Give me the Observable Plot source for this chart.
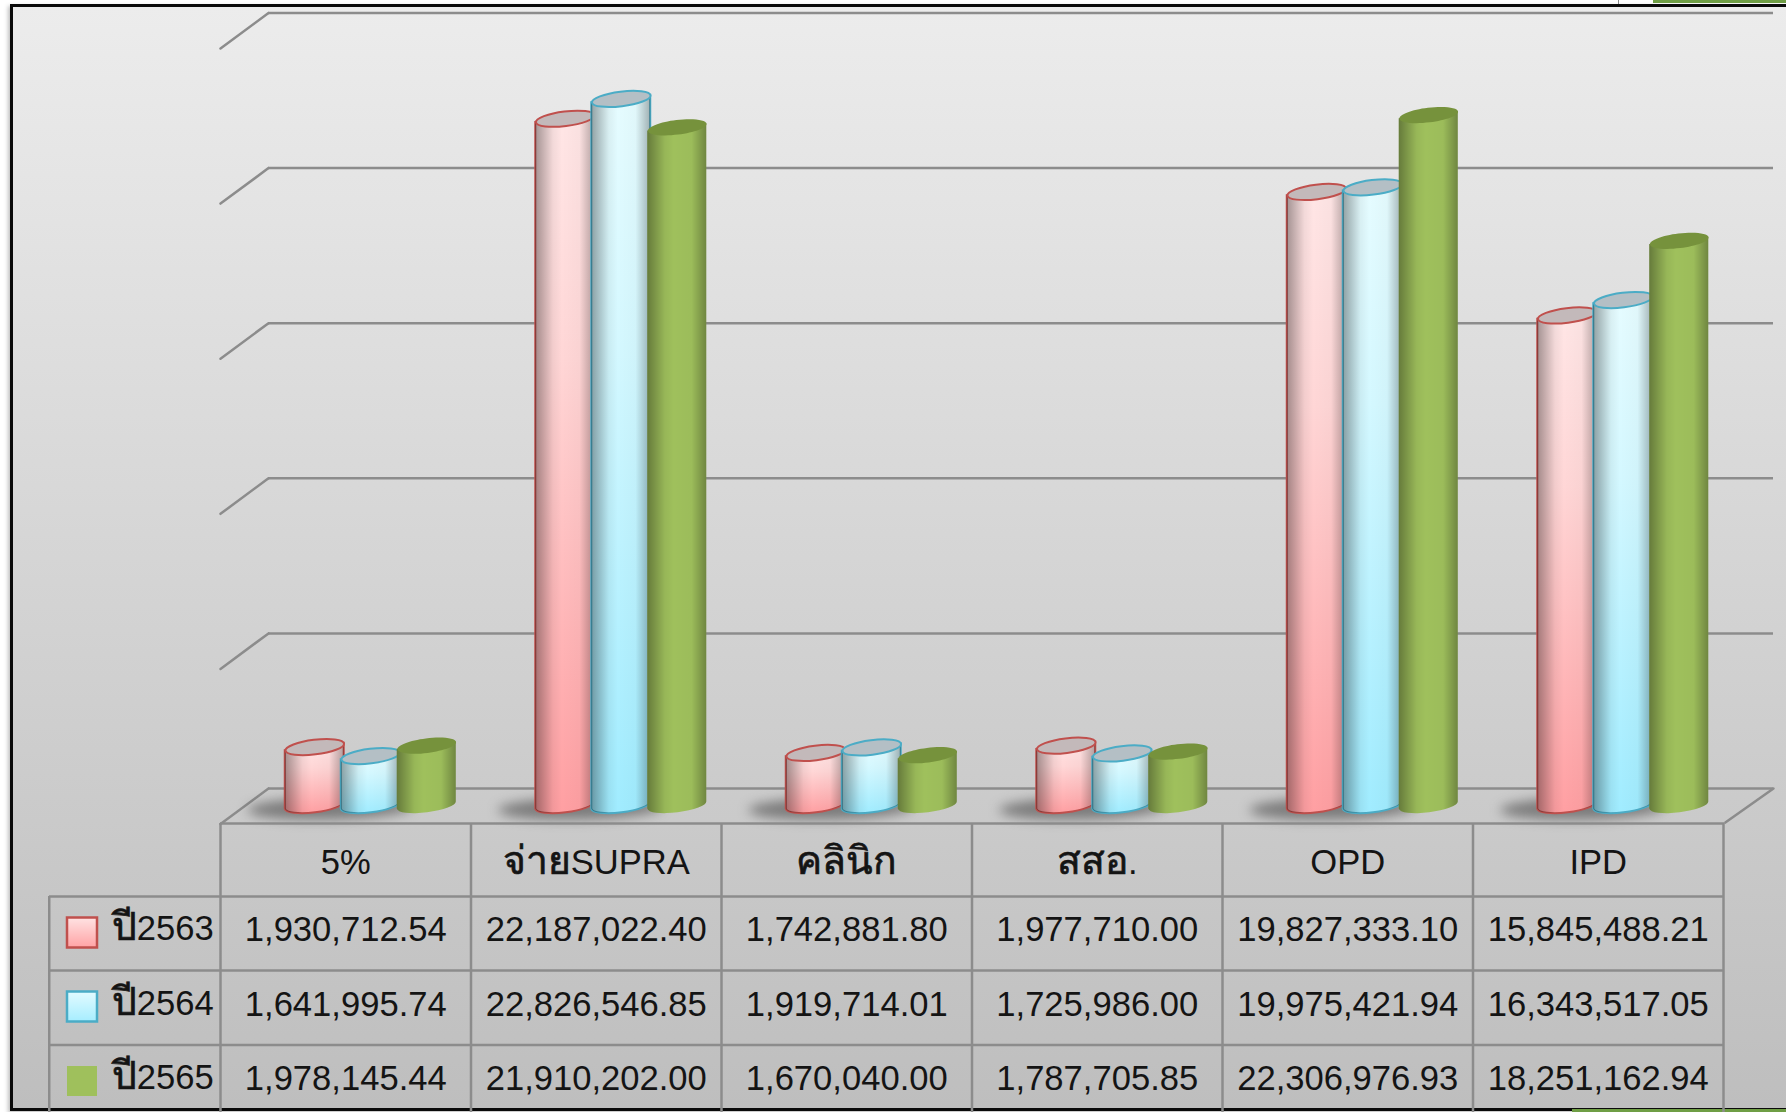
<!DOCTYPE html>
<html lang="th">
<head>
<meta charset="utf-8">
<title>Chart</title>
<script src="https://cdn.jsdelivr.net/npm/d3@7"></script>
<script src="https://cdn.jsdelivr.net/npm/@observablehq/plot@0.6"></script>
<style>
  html, body { margin: 0; padding: 0; background: #fff; width: 1786px; height: 1112px; overflow: hidden; position: relative; }
  #frame { position: absolute; left: 10px; top: 4px; width: 1790px; height: 1101px; border: 3px solid #0a0a0a;
           background: linear-gradient(#ececec, #bebebe); box-shadow: -2px 2px 4px rgba(0,0,0,.25); }
  .patch { position: absolute; background: #6f9e45; }
  #chart { position: absolute; left: 0; top: 0; }
  #chart svg { display: block; }
</style>
</head>
<body>
<svg width="0" height="0" style="position:absolute">
  <defs>
    <linearGradient id="pinkBody" x1="0" y1="0" x2="0" y2="1"><stop offset="0" stop-color="#ffe6e6"/><stop offset=".35" stop-color="#ffd6d6"/><stop offset="1" stop-color="#ff9fa2"/></linearGradient>
    <linearGradient id="blueBody" x1="0" y1="0" x2="0" y2="1"><stop offset="0" stop-color="#e6fcff"/><stop offset=".35" stop-color="#d4f8ff"/><stop offset="1" stop-color="#a0ecff"/></linearGradient>
    <linearGradient id="greenBody" x1="0" y1="0" x2="0" y2="1"><stop offset="0" stop-color="#9fc05c"/><stop offset="1" stop-color="#9fc05c"/></linearGradient>
    <linearGradient id="shade" x1="0" y1="0" x2="1" y2="0"><stop offset="0" stop-color="#000" stop-opacity=".36"/><stop offset=".3" stop-color="#000" stop-opacity=".05"/><stop offset=".45" stop-color="#000" stop-opacity="0"/><stop offset=".75" stop-color="#000" stop-opacity=".02"/><stop offset="1" stop-color="#000" stop-opacity=".3"/></linearGradient>
    <linearGradient id="pinkKey" x1="0" y1="0" x2="0" y2="1"><stop offset="0" stop-color="#ffe3e3"/><stop offset="1" stop-color="#ffa3a5"/></linearGradient>
    <linearGradient id="blueKey" x1="0" y1="0" x2="0" y2="1"><stop offset="0" stop-color="#e3fbff"/><stop offset="1" stop-color="#a6edff"/></linearGradient>
  </defs>
</svg>
<div id="frame"></div>
<div class="patch" style="left:1653px;top:0;width:133px;height:3px"></div>
<div class="patch" style="left:1618px;top:0;width:1px;height:4px;background:#888"></div>
<div class="patch" style="left:1572px;top:1109px;width:214px;height:3px"></div>
<div id="chart"></div>
<script>
const categories = ["5%", "จ่ายSUPRA", "คลินิก", "สสอ.", "OPD", "IPD"];
const seriesNames = ["ปี2563", "ปี2564", "ปี2565"];
const values2563 = [1930712.54, 22187022.40, 1742881.80, 1977710.00, 19827333.10, 15845488.21];
const values2564 = [1641995.74, 22826546.85, 1919714.01, 1725986.00, 19975421.94, 16343517.05];
const values2565 = [1978145.44, 21910202.00, 1670040.00, 1787705.85, 22306976.93, 18251162.94];
const gridTicks = [0, 5000000, 10000000, 15000000, 20000000, 25000000];

const allValues = [values2563, values2564, values2565];
const fmt = d3.format(",.2f");
const TEXT = "#141414", GRID = "#8c8c8c", FONT = "'Liberation Sans', Arial, sans-serif";

// cylinder look
const R = 29.5, B = 7.3, TILT = -7 * Math.PI / 180, BAND = 250.5;
const looks = [
  {body: "url(#pinkBody)", cap: "#c3b9ba", line: "#c0504d", key: "url(#pinkKey)", keyLine: "#c0504d", dx: 25 - 56},
  {body: "url(#blueBody)", cap: "#b4bfc5", line: "#4bacc6", key: "url(#blueKey)", keyLine: "#4bacc6", dx: 25},
  {body: "url(#greenBody)", cap: "#76923c", line: "none", key: "#9fc05c", keyLine: "none", dx: 25 + 56}
];

// tilted ellipse drawn as a Plot dot symbol
function ellipseSymbol(a, b, rot) {
  const k = 0.5523, c = Math.cos(rot), s = Math.sin(rot);
  const p = (x, y) => [x * c - y * s, x * s + y * c];
  return {draw(ctx) {
    ctx.moveTo(...p(a, 0));
    ctx.bezierCurveTo(...p(a, k * b), ...p(k * a, b), ...p(0, b));
    ctx.bezierCurveTo(...p(-k * a, b), ...p(-a, k * b), ...p(-a, 0));
    ctx.bezierCurveTo(...p(-a, -k * b), ...p(-k * a, -b), ...p(0, -b));
    ctx.bezierCurveTo(...p(k * a, -b), ...p(a, -k * b), ...p(a, 0));
    ctx.closePath();
  }};
}
const capSymbol = ellipseSymbol(R, B, TILT);
const shadowSymbol = ellipseSymbol(82, 11, -0.02);
const squareSymbol = {draw(ctx) { ctx.rect(-15, -15, 30, 30); }};
const strokeOnly = {draw(ctx, l) { ctx.moveTo(0, 0); ctx.lineTo(0, -l); }};

// turn each bar rectangle into the tilted, round-bottomed side of a cylinder
function cylinderRender(index, scales, values, dimensions, context, next) {
  const g = next(index, scales, values, dimensions, context);
  const t = Math.tan(-TILT) * R, deg = TILT * 180 / Math.PI;
  d3.select(g).selectAll("rect").each(function() {
    const x = +this.getAttribute("x"), y = +this.getAttribute("y");
    const w = +this.getAttribute("width"), h = +this.getAttribute("height") - 1.5;
    const path = document.createElementNS("http://www.w3.org/2000/svg", "path");
    path.setAttribute("d", `M${x},${y + t}L${x},${y + h + t}A${R},${B} ${deg} 0 0 ${x + w},${y + h - t}L${x + w},${y - t}Z`);
    this.replaceWith(path);
  });
  return g;
}

const barInset = (BAND - 2 * R) / 2;
const rowsOf = vals => categories.map((category, i) => ({category, value: vals[i]}));

const cylinderMarks = allValues.flatMap((vals, s) => {
  const look = looks[s], rows = rowsOf(vals);
  const common = {x: "category", y: "value", dx: look.dx, dy: 18.5};
  return [
    Plot.barY(rows, {...common, insetLeft: barInset, insetRight: barInset, fill: look.body, stroke: look.line, strokeWidth: 2, render: cylinderRender}),
    Plot.barY(rows, {...common, insetLeft: barInset, insetRight: barInset, fill: "url(#shade)", render: cylinderRender}),
    Plot.dot(rows, {...common, symbol: capSymbol, fill: look.cap, stroke: look.line, strokeWidth: 2})
  ];
});

const cellOffsets = [141, 216, 290];
const keyOffsets = [144, 218, 292.5];
const tableCells = allValues.flatMap((vals, s) =>
  Plot.text(rowsOf(vals), {x: "category", y: () => 0, dy: cellOffsets[s], text: d => fmt(d.value), fontSize: 34.6, fill: TEXT})
);

const plot = Plot.plot({
  width: 1786,
  height: 1112,
  marginLeft: 268,
  marginRight: 13,
  marginTop: 12.5,
  marginBottom: 324,
  style: {background: "transparent", fontFamily: FONT, color: TEXT},
  x: {type: "band", domain: categories, range: [220, 1723], padding: 0, round: false, axis: null},
  y: {domain: [0, 25000000], axis: null},
  marks: [
    // walls and floor
    Plot.ruleY(gridTicks, {stroke: GRID, strokeWidth: 2.5}),
    Plot.vector(gridTicks, {y: d => d, frameAnchor: "left", anchor: "start", length: 59.7, rotate: -126.5, shape: strokeOnly, stroke: GRID, strokeWidth: 2.5}),
    Plot.vector([0], {y: d => d, frameAnchor: "right", anchor: "start", length: 59, rotate: -125.3, shape: strokeOnly, stroke: GRID, strokeWidth: 2.5}),
    // floor shadows
    Plot.dot(categories, {x: d => d, y: () => 0, dx: -16, dy: 20, symbol: shadowSymbol, fill: "#4a4a4a", fillOpacity: 0.62, imageFilter: "blur(6px)"}),
    ...cylinderMarks,
    // data table
    Plot.ruleY([0], {dy: 35, insetLeft: -48, insetRight: 49, stroke: GRID, strokeWidth: 2.5}),
    Plot.ruleY([0], {dy: 108, insetLeft: -219, insetRight: 49, stroke: GRID, strokeWidth: 2.5}),
    Plot.ruleY([0], {dy: 182, insetLeft: -219, insetRight: 49, stroke: GRID, strokeWidth: 2.5}),
    Plot.ruleY([0], {dy: 256.5, insetLeft: -219, insetRight: 49, stroke: GRID, strokeWidth: 2.5}),
    Plot.ruleX(categories, {x: d => d, dx: -BAND / 2, insetTop: 810.5, insetBottom: -324, stroke: GRID, strokeWidth: 2.5}),
    Plot.ruleX([categories[5]], {x: d => d, dx: BAND / 2, insetTop: 810.5, insetBottom: -324, stroke: GRID, strokeWidth: 2.5}),
    Plot.ruleX([categories[0]], {x: d => d, dx: -296.5, insetTop: 883.5, insetBottom: -324, stroke: GRID, strokeWidth: 2.5}),
    Plot.axisX({anchor: "bottom", tickSize: 0, tickPadding: 61, fontSize: 34.6, label: null, fill: TEXT}),
    ...tableCells,
    ...seriesNames.flatMap((name, s) => [
      Plot.dot([name], {x: () => categories[0], y: () => 0, dx: -263.75, dy: keyOffsets[s], symbol: squareSymbol, fill: looks[s].key, stroke: looks[s].keyLine, strokeWidth: 2.5}),
      Plot.text([name], {x: () => categories[0], y: () => 0, dx: -132, dy: cellOffsets[s] - 1, text: d => d, textAnchor: "end", fontSize: 34.6, fill: TEXT})
    ])
  ]
});

// the Thai letters in the reference's labels are larger and heavier than the Latin ones
d3.select(plot).selectAll("text").each(function() {
  const holders = this.querySelectorAll("tspan").length ? [...this.querySelectorAll("tspan")] : [this];
  for (const el of holders) {
    const str = el.textContent;
    if (!/[\u0E00-\u0E7F]/.test(str)) continue;
    el.textContent = "";
    for (const run of str.match(/[\u0E00-\u0E7F]+|[^\u0E00-\u0E7F]+/g)) {
      const span = document.createElementNS("http://www.w3.org/2000/svg", "tspan");
      span.textContent = run;
      if (/[\u0E00-\u0E7F]/.test(run)) { span.setAttribute("font-size", 39); span.setAttribute("stroke", TEXT); span.setAttribute("stroke-width", 0.7); }
      el.appendChild(span);
    }
  }
});
document.getElementById("chart").appendChild(plot);
</script>
</body>
</html>
